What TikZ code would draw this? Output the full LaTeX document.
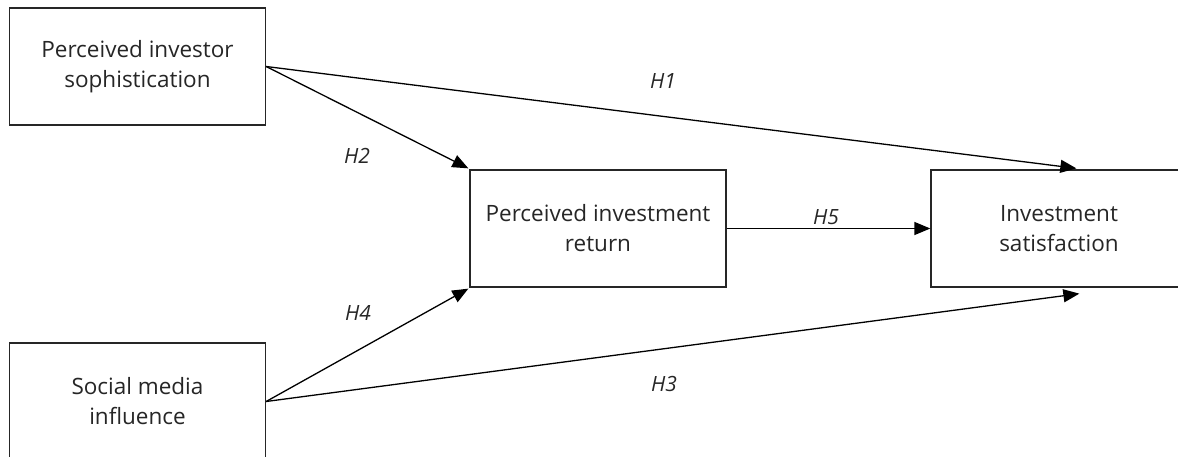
\documentclass[tikz,border=0pt]{standalone}
\usepackage{fontspec}
\setmainfont{Open Sans}
\usetikzlibrary{arrows.meta,calc}
\begin{document}
\begin{tikzpicture}[x=1pt,y=-1pt,
  construct/.style={draw=black!85,line width=1.3pt,fill=white,minimum width=256pt,minimum height=117pt,
    align=center,font=\fontsize{22.5}{30}\selectfont,text=black!85,inner sep=0pt},
  path/.style={draw=black,line width=1.3pt,-{Triangle[length=16pt,width=13pt]}},
  hyp/.style={font=\fontsize{21}{25}\selectfont\itshape,text=black!85}]
  \useasboundingbox (0,0) rectangle (1178,457);
  % constructs
  \node[construct] (pis) at (137.5,66.5) {Perceived investor\\sophistication};
  \node[construct] (smi) at (137.5,401.5) {Social media\\influence};
  \node[construct] (pir) at (598,228.5) {Perceived investment\\return};
  \node[construct] (is)  at (1059,228.5) {Investment\\satisfaction};
  % target points on the outcome box
  \coordinate (isTop) at ($(is.north west)+(146,-1)$);
  \coordinate (isBot) at ($(is.south west)+(149,6)$);
  \coordinate (pirTL) at ($(pir.north west)+(-1,-1)$);
  \coordinate (pirBL) at ($(pir.south west)+(-1,1)$);
  % hypothesised paths
  \draw[path] (pis.east) -- (isTop);
  \draw[path] (pis.east) -- (pirTL);
  \draw[path] (smi.east) -- (pirBL);
  \draw[path] (smi.east) -- (isBot);
  \draw[path] (pir.east) -- (is.west);
  % path labels
  \node[hyp] (h1) at (663,81) {H1};
  \node[hyp] (h2) at (357,156) {H2};
  \node[hyp] (h5) at (826,217) {H5};
  \node[hyp] (h4) at (358,313) {H4};
  \node[hyp] (h3) at (664,384) {H3};
\end{tikzpicture}
\end{document}
